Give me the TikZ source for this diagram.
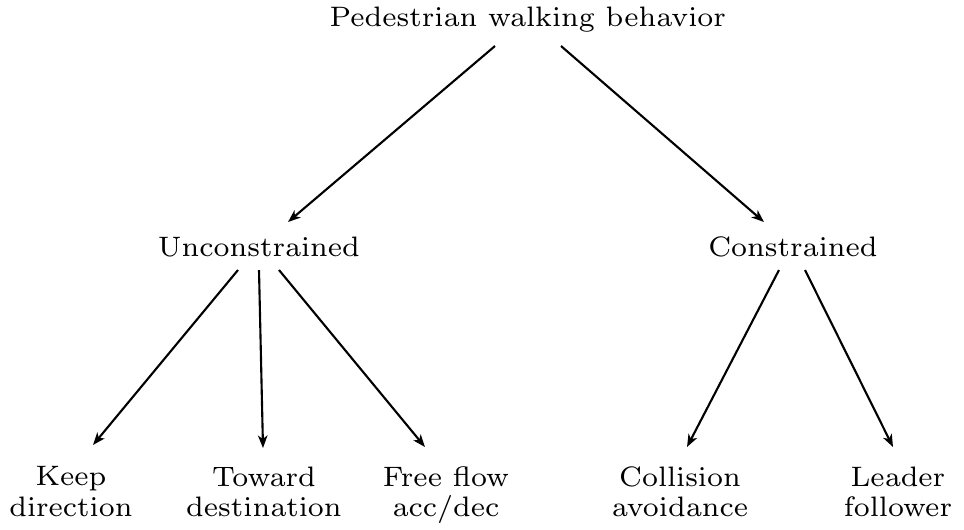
\documentclass[tikz,border=0pt]{standalone}
\usetikzlibrary{arrows.meta}
\font\treefont=cmr7 at 8pt
\begin{document}
\begin{tikzpicture}[x=0.01cm,y=-0.01cm,
  lbl/.style={inner sep=0pt,font={\treefont\baselineskip=8.7pt},align=center},
  arr/.style={line width=0.6pt,-{Stealth[length=1.25mm,width=0.95mm,inset=0.35mm]}}]
\useasboundingbox (0,0) rectangle (964,529);
\node[lbl,anchor=base] (top) at (528,26) {Pedestrian walking behavior};
\node[lbl,anchor=base] (U) at (259,256) {Unconstrained};
\node[lbl,anchor=base] (C) at (793,256) {Constrained};
\node[lbl,anchor=north] (K) at (71,466) {Keep\\direction};
\node[lbl,anchor=north] (T) at (264,466) {Toward\\destination};
\node[lbl,anchor=north] (F) at (446,466) {Free flow\\acc/dec};
\node[lbl,anchor=north] (Co) at (680,466) {Collision\\avoidance};
\node[lbl,anchor=north] (L) at (898,466) {Leader\\follower};
\draw[arr] ([shift={(-33,20)}]top.base) -- ([shift={(29,-34)}]U.base);
\draw[arr] ([shift={(33,20)}]top.base) -- ([shift={(-29,-34)}]C.base);
\draw[arr] ([shift={(-21,14)}]U.base) -- ([shift={(22,-21)}]K.north);
\draw[arr] ([shift={(0,14)}]U.base) -- ([shift={(-1,-18)}]T.north);
\draw[arr] ([shift={(20,14)}]U.base) -- ([shift={(-21,-19)}]F.north);
\draw[arr] ([shift={(-14,14)}]C.base) -- ([shift={(7,-19)}]Co.north);
\draw[arr] ([shift={(12,14)}]C.base) -- ([shift={(-5,-19)}]L.north);
\end{tikzpicture}
\end{document}
